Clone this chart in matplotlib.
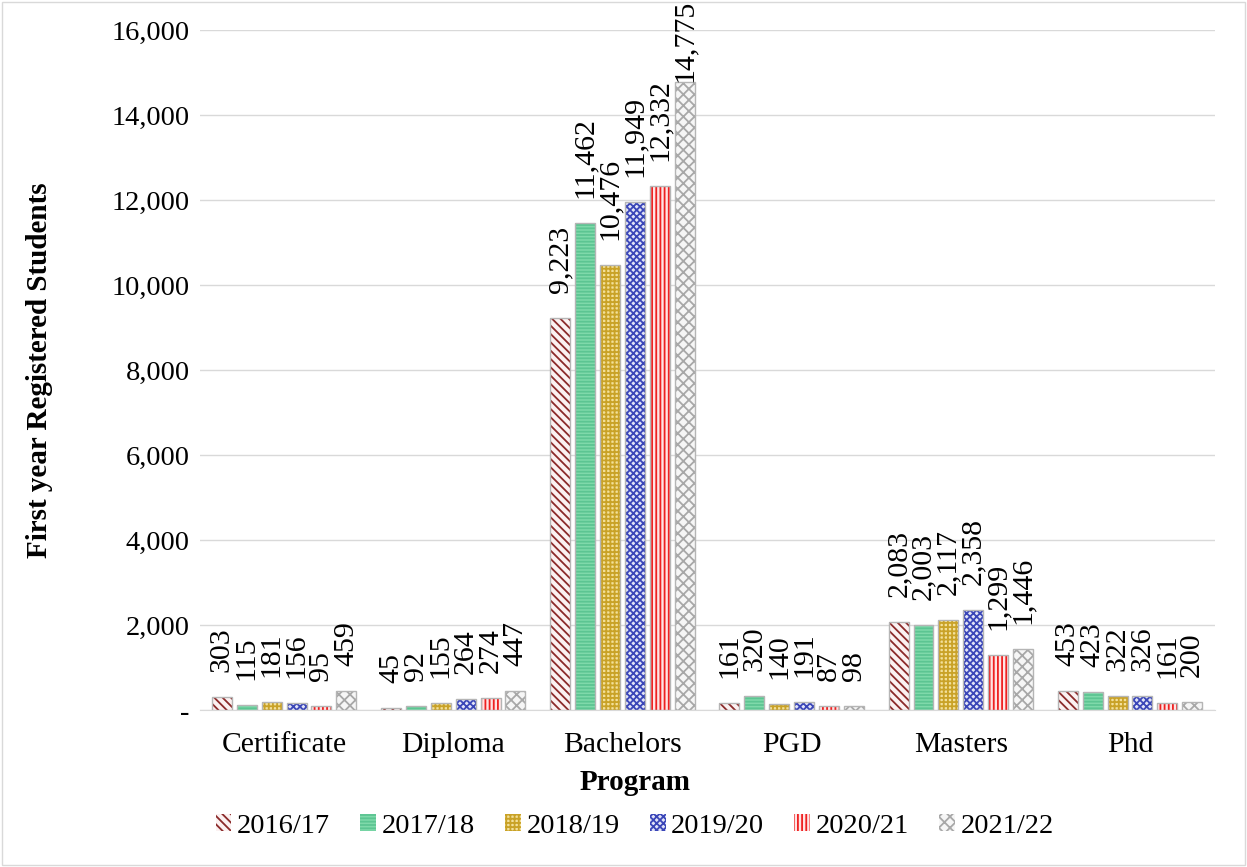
import numpy as np
import matplotlib.pyplot as plt
from matplotlib.patches import Rectangle

plt.rcParams['font.family'] = ['Liberation Serif', 'DejaVu Serif']
plt.rcParams['hatch.linewidth'] = 1.3

programs = ["Certificate", "Diploma", "Bachelors", "PGD", "Masters", "Phd"]
years = ["2016/17", "2017/18", "2018/19", "2019/20", "2020/21", "2021/22"]
values = {
    "2016/17": [303, 45, 9223, 161, 2083, 453],
    "2017/18": [115, 92, 11462, 320, 2003, 423],
    "2018/19": [181, 155, 10476, 140, 2117, 322],
    "2019/20": [156, 264, 11949, 191, 2358, 326],
    "2020/21": [95, 274, 12332, 87, 1299, 161],
    "2021/22": [459, 447, 14775, 98, 1446, 200],
}

faces = ["#fbf1f1", "#7fd9aa", "#f3e09a", "#e2e4f8", "#ffe4e4", "#f6f6f6"]
hatch_cols = ["#8b2a2a", "#5cc592", "#c9a227", "#3a46b8", "#ee2020", "#a8a8a8"]
hatches = ["\\\\\\\\", "-----", "++++", "xxxxx", "||||", "xxx"]

fig = plt.figure(figsize=(12.47, 8.67), dpi=100)
ax = fig.add_axes([0.160, 0.181, 0.814, 0.784])

x = np.arange(len(programs))
pitch = 0.147
width = 0.118
labels = []
for i, yr in enumerate(years):
    pos = x + (i - 2.5) * pitch
    ax.bar(pos, values[yr], width, color=faces[i], edgecolor=hatch_cols[i],
           hatch=hatches[i], linewidth=0, label=yr, zorder=3)
    ax.bar(pos, values[yr], width, fill=False, edgecolor="#b5b5b5",
           linewidth=1.0, zorder=4)
    for p, v in zip(pos, values[yr]):
        t = ax.annotate(f"{v:,}", (p, v), xytext=(0, 18), textcoords="offset points",
                        rotation=90, ha="center", va="bottom", fontsize=21.5, zorder=5)
        labels.append(t)

ax.set_xlim(-0.5, len(programs) - 0.5)
ax.set_ylim(0, 16000)
ax.set_yticks(np.arange(0, 16001, 2000))
ax.set_yticklabels(["-"] + [f"{t:,}" for t in range(2000, 16001, 2000)])
ax.set_xticks(x)
ax.set_xticklabels(programs, fontsize=21.3)
ax.tick_params(axis="y", length=0, labelsize=20.5, pad=7)
ax.tick_params(axis="x", length=0, pad=16)
ax.grid(axis="y", color="#d9d9d9", linewidth=1, zorder=0)
for s in ["top", "right", "left"]:
    ax.spines[s].set_visible(False)
ax.spines["bottom"].set_color("#d9d9d9")

ax.set_ylabel("First year Registered Students", fontsize=21, fontweight="bold", va="center")
ax.yaxis.set_label_coords(-0.158, 0.5)
fig.text(0.509, 1 - 783 / 867, "Program", fontsize=21, fontweight="bold",
         ha="center", va="center")

fig.legend(*ax.get_legend_handles_labels(), loc="center", bbox_to_anchor=(0.509, 0.047),
           ncol=6, frameon=False, fontsize=20.5, handlelength=0.56, handleheight=0.56,
           handletextpad=0.2, columnspacing=1.05)

fig.patches.append(Rectangle((0.002, 0.002), 0.996, 0.996, transform=fig.transFigure,
                             fill=False, edgecolor="#d9d9d9", linewidth=1))

# keep labels inside the figure, like the spreadsheet does
fig.canvas.draw()
renderer = fig.canvas.get_renderer()
H = fig.bbox.height
for t in labels:
    bb = t.get_window_extent(renderer)
    if bb.y1 > H - 9:
        dy = (bb.y1 - (H - 9)) * 72 / fig.dpi
        t.xyann = (0, max(0, 18 - dy))

fig.savefig("out.png", dpi=100)
